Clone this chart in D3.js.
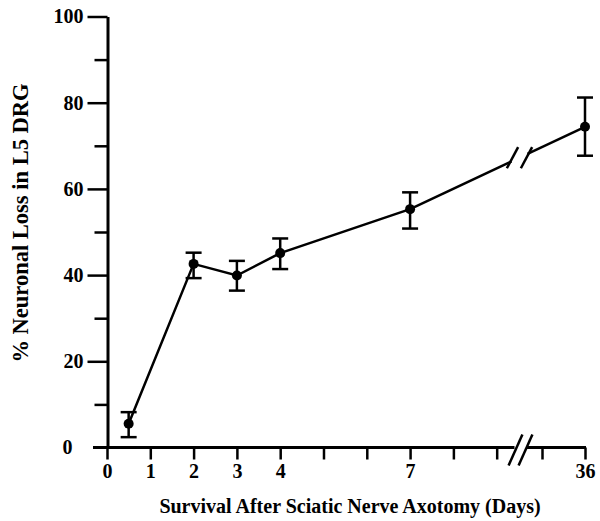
<!DOCTYPE html>
<html>
<head>
<meta charset="utf-8">
<script src="https://cdn.jsdelivr.net/npm/d3@7"></script>
<style>
  body { margin: 0; background: #fff; }
  text { font-family: "Liberation Serif", "Times New Roman", serif; font-weight: bold; fill: #000; }
</style>
</head>
<body>
<div id="chart_area"></div>
<script>
// data
var days = [0.5, 2, 3, 4, 7, 36];
var loss = [5.5, 42.6, 39.9, 45.1, 55.3, 74.4];
var errHi = [8.2, 45.2, 43.3, 48.5, 59.2, 81.2];
var errLo = [2.4, 39.3, 36.4, 41.4, 50.8, 67.7];

var yMajor = [0, 20, 40, 60, 80, 100];
var yMinor = [10, 30, 50, 70, 90];
var xTicks = [0, 1, 2, 3, 4, 5, 6, 7, 8, 9, 35, 36];
var xLabels = [0, 1, 2, 3, 4, 7, 36];

var xTitle = "Survival After Sciatic Nerve Axotomy (Days)";
var yTitle = "% Neuronal Loss in L5 DRG";

// frame
var frame = d3.select("#chart_area").append("svg")
    .attr("width", 600)
    .attr("height", 521);

// scales (x is broken between 9.55 and 34.5 days)
var xScale = d3.scaleLinear()
    .domain([0, 9.55, 34.5, 36])
    .range([107, 520.5, 520.5, 585]);
var yScale = d3.scaleLinear().domain([0, 100]).range([447.5, 16.5]);
var breakX = 520.5;

// y axis: major ticks with labels
var yAxis = frame.append("g")
    .attr("transform", "translate(107.5,0)")
    .call(d3.axisLeft(yScale).tickValues(yMajor).tickSize(20).tickSizeOuter(0).tickPadding(4));
yAxis.select(".domain").attr("stroke-width", 3);
yAxis.selectAll(".tick line").attr("stroke-width", 2.5)
    .filter(function(d) { return d === 0; }).remove();
yAxis.selectAll(".tick text").attr("font-size", 20)
    .filter(function(d) { return d === 0; }).attr("x", -35);

// y axis: minor ticks
var yMinorAxis = frame.append("g")
    .attr("transform", "translate(107.5,0)")
    .call(d3.axisLeft(yScale).tickValues(yMinor).tickSize(13).tickFormat(""));
yMinorAxis.select(".domain").remove();
yMinorAxis.selectAll(".tick line").attr("stroke-width", 2.5);

// x axis ticks
var xAxis = frame.append("g")
    .attr("transform", "translate(0,447.5)")
    .call(d3.axisBottom(xScale).tickValues(xTicks).tickSize(12).tickPadding(4)
        .tickFormat(function(d) { return xLabels.indexOf(d) >= 0 ? d : ""; }));
xAxis.select(".domain").remove();
xAxis.selectAll(".tick line").attr("stroke-width", 2.5);
xAxis.selectAll(".tick text").attr("font-size", 20);

// x axis line with break
frame.append("line").attr("x1", 93).attr("x2", breakX - 6)
    .attr("y1", 447.5).attr("y2", 447.5).attr("stroke", "#000").attr("stroke-width", 3);
frame.append("line").attr("x1", breakX + 6).attr("x2", 586)
    .attr("y1", 447.5).attr("y2", 447.5).attr("stroke", "#000").attr("stroke-width", 3);

function slashes(cx, cy, gap, len, angle) {
  var a = angle * Math.PI / 180;
  var dx = Math.cos(a) * len / 2, dy = Math.sin(a) * len / 2;
  [-gap, gap].forEach(function(o) {
    frame.append("line")
        .attr("x1", cx + o - dx).attr("y1", cy + dy)
        .attr("x2", cx + o + dx).attr("y2", cy - dy)
        .attr("stroke", "#000").attr("stroke-width", 2.5);
  });
}
slashes(breakX, 450, 5, 34, 66);

// data line
var pts = days.map(function(d, i) { return [xScale(d), yScale(loss[i])]; });
var line = d3.line();
frame.append("path")
    .attr("d", line(pts.slice(0, 5)))
    .attr("fill", "none").attr("stroke", "#000").attr("stroke-width", 2.5);

// last segment, interrupted at the break
var p7 = pts[4], p36 = pts[5];
function yAt(x) { return p7[1] + (x - p7[0]) / (p36[0] - p7[0]) * (p36[1] - p7[1]); }
frame.append("line").attr("x1", p7[0]).attr("y1", p7[1])
    .attr("x2", breakX - 9).attr("y2", yAt(breakX - 9))
    .attr("stroke", "#000").attr("stroke-width", 2.5);
frame.append("line").attr("x1", breakX + 7).attr("y1", yAt(breakX + 7))
    .attr("x2", p36[0]).attr("y2", p36[1])
    .attr("stroke", "#000").attr("stroke-width", 2.5);
slashes(breakX - 1, yAt(breakX - 1), 7, 24, 62);

// error bars
var bars = frame.append("g").attr("stroke", "#000").attr("stroke-width", 2.5);
days.forEach(function(d, i) {
  var x = xScale(d);
  bars.append("line").attr("x1", x).attr("x2", x)
      .attr("y1", yScale(errLo[i])).attr("y2", yScale(errHi[i]));
  [errLo[i], errHi[i]].forEach(function(v) {
    bars.append("line").attr("x1", x - 8).attr("x2", x + 8)
        .attr("y1", yScale(v)).attr("y2", yScale(v));
  });
});

// points
frame.append("g").selectAll("circle")
    .data(days)
    .enter().append("circle")
    .attr("cx", function(d) { return xScale(d); })
    .attr("cy", function(d, i) { return yScale(loss[i]); })
    .attr("r", 5)
    .attr("fill", "#000");

// titles
frame.append("text")
    .attr("x", 350).attr("y", 513)
    .attr("text-anchor", "middle")
    .attr("font-size", 20)
    .text(xTitle);

frame.append("text")
    .attr("transform", "translate(28,223) rotate(-90)")
    .attr("text-anchor", "middle")
    .attr("font-size", 22.5)
    .text(yTitle);
</script>
</body>
</html>
